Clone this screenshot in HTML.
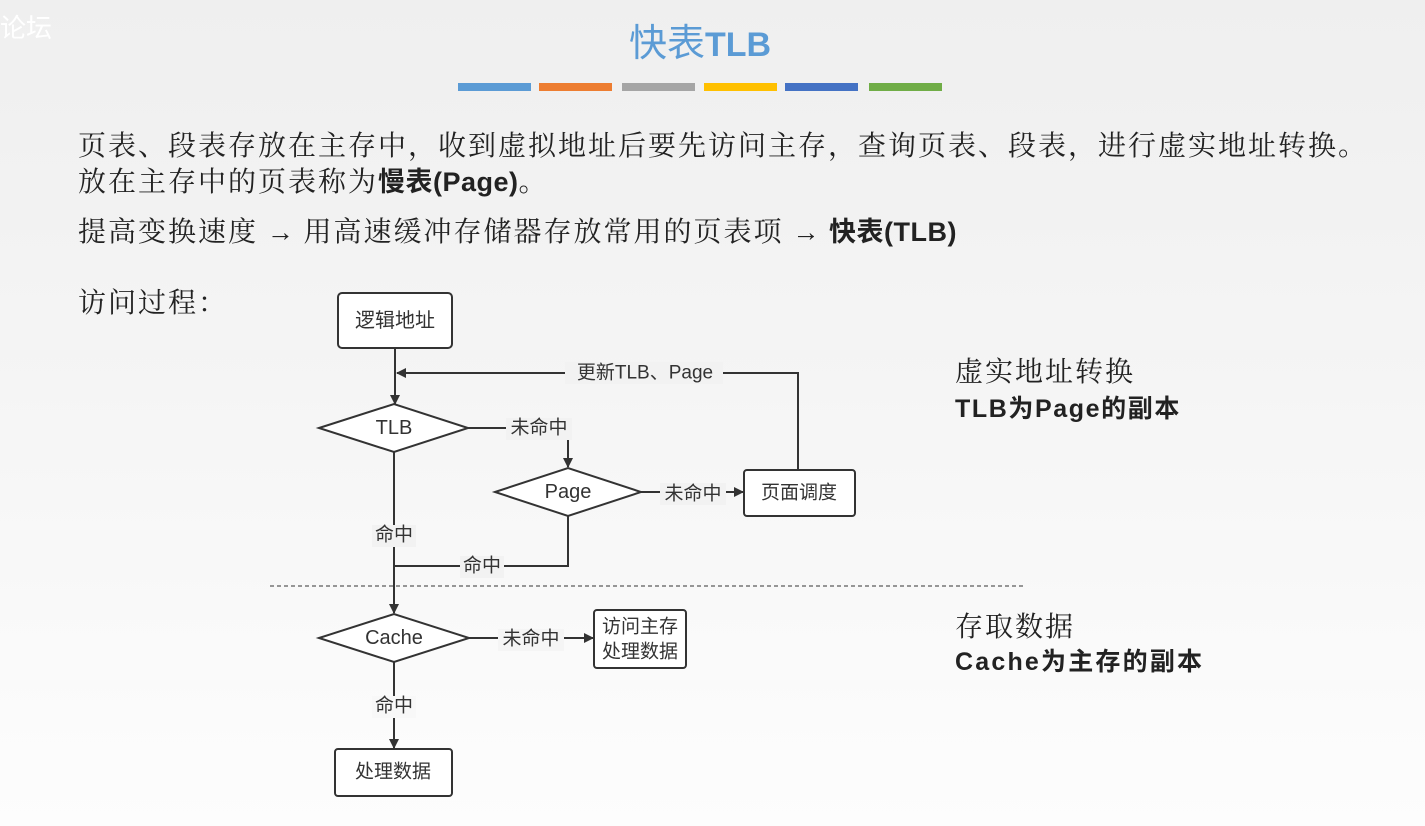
<!DOCTYPE html>
<html><head><meta charset="utf-8"><style>
body{margin:0;width:1425px;height:826px;overflow:hidden;background:linear-gradient(#efefef,#f4f4f4 40%,#fdfdfd);font-family:"Liberation Sans","Noto Sans CJK SC",sans-serif;position:relative;color:#222}
.t{position:absolute;white-space:nowrap}
.s{font-family:"Liberation Serif","Noto Serif CJK SC",serif;font-size:28px;letter-spacing:2px;line-height:37px}
.s b{font-family:"Liberation Sans","Noto Sans CJK SC",sans-serif;letter-spacing:0.5px;font-size:27px}
</style></head><body>
<div class="t" style="left:0;top:8px;font-size:26px;color:#fff">论坛</div>
<div class="t" style="left:0;width:1400px;text-align:center;top:12px;font-size:38px;color:#5b9bd5">快表<b style="font-size:34px">TLB</b></div>
<div style="position:absolute;top:83px;left:458px;width:73px;height:8px;background:#5b9bd5"></div>
<div style="position:absolute;top:83px;left:539px;width:73px;height:8px;background:#ed7d31"></div>
<div style="position:absolute;top:83px;left:622px;width:73px;height:8px;background:#a5a5a5"></div>
<div style="position:absolute;top:83px;left:704px;width:73px;height:8px;background:#ffc000"></div>
<div style="position:absolute;top:83px;left:785px;width:73px;height:8px;background:#4472c4"></div>
<div style="position:absolute;top:83px;left:869px;width:73px;height:8px;background:#70ad47"></div>
<div class="t s" style="left:78px;top:128px">页表、段表存放在主存中，收到虚拟地址后要先访问主存，查询页表、段表，进行虚实地址转换。</div>
<div class="t s" style="left:78px;top:164px">放在主存中的页表称为<b>慢表(Page)</b>。</div>
<div class="t s" style="left:78px;top:214px">提高变换速度 <b>→</b> 用高速缓冲存储器存放常用的页表项 <b>→</b> <b>快表(TLB)</b></div>
<div class="t s" style="left:78px;top:285px">访问过程：</div>
<div class="t s" style="left:955px;top:354px">虚实地址转换</div>
<div class="t" style="left:955px;top:391px;font-size:25px;line-height:36px;font-weight:bold;letter-spacing:1.6px">TLB为Page的副本</div>
<div class="t s" style="left:955px;top:609px">存取数据</div>
<div class="t" style="left:955px;top:644px;font-size:25px;line-height:36px;font-weight:bold;letter-spacing:2.2px">Cache为主存的副本</div>
<svg width="1425" height="826" style="position:absolute;left:0;top:0" font-family="Liberation Sans,Noto Sans CJK SC,sans-serif" font-size="19" fill="#333">
<defs><marker id="a" markerWidth="10" markerHeight="10" refX="9" refY="5" orient="auto" markerUnits="userSpaceOnUse"><path d="M0,0L10,5L0,10z" fill="#333"/></marker></defs>
<g stroke="#333" stroke-width="2" fill="none">
<line x1="395" y1="348" x2="395" y2="404" marker-end="url(#a)"/>
<polyline points="798,470 798,373 397,373" marker-end="url(#a)"/>
<polyline points="468,428 568,428 568,467" marker-end="url(#a)"/>
<line x1="641" y1="492" x2="743" y2="492" marker-end="url(#a)"/>
<line x1="394" y1="452" x2="394" y2="613" marker-end="url(#a)"/>
<polyline points="568,516 568,566 394,566"/>
<line x1="469" y1="638" x2="593" y2="638" marker-end="url(#a)"/>
<line x1="394" y1="662" x2="394" y2="748" marker-end="url(#a)"/>
<rect x="338" y="293" width="114" height="55" rx="4" fill="#fff"/>
<rect x="744" y="470" width="111" height="46" rx="3" fill="#fff"/>
<rect x="594" y="610" width="92" height="58" rx="3" fill="#fff"/>
<rect x="335" y="749" width="117" height="47" rx="3" fill="#fff"/>
<polygon points="319,428 394,404 468,428 394,452" fill="#fff"/>
<polygon points="495,492 568,468 641,492 568,516" fill="#fff"/>
<polygon points="319,638 394,614 469,638 394,662" fill="#fff"/>
</g>
<line x1="270" y1="586" x2="1023" y2="586" stroke="#333" stroke-width="1" stroke-dasharray="4,3"/>
<g text-anchor="middle" dominant-baseline="central">
<text x="395" y="321" font-size="20">逻辑地址</text>
<text x="394" y="428" font-size="20">TLB</text>
<text x="568" y="492" font-size="20">Page</text>
<text x="799" y="493">页面调度</text>
<text x="394" y="638" font-size="20">Cache</text>
<text x="640" y="627">访问主存</text>
<text x="640" y="652">处理数据</text>
<text x="393" y="772">处理数据</text>
<rect x="565" y="362" width="158" height="22" fill="#f2f2f2"/><text x="645" y="373">更新TLB、Page</text>
<rect x="506" y="418" width="66" height="22" fill="#f2f2f2"/><text x="539" y="428">未命中</text>
<rect x="660" y="483" width="66" height="22" fill="#f2f2f2"/><text x="693" y="494">未命中</text>
<rect x="372" y="525" width="44" height="22" fill="#f2f2f2"/><text x="394" y="535">命中</text>
<rect x="460" y="556" width="44" height="22" fill="#f2f2f2"/><text x="482" y="566">命中</text>
<rect x="498" y="629" width="66" height="22" fill="#f5f5f5"/><text x="531" y="639">未命中</text>
<rect x="372" y="696" width="44" height="22" fill="#f8f8f8"/><text x="394" y="706">命中</text>
</g>
</svg>
</body></html>
